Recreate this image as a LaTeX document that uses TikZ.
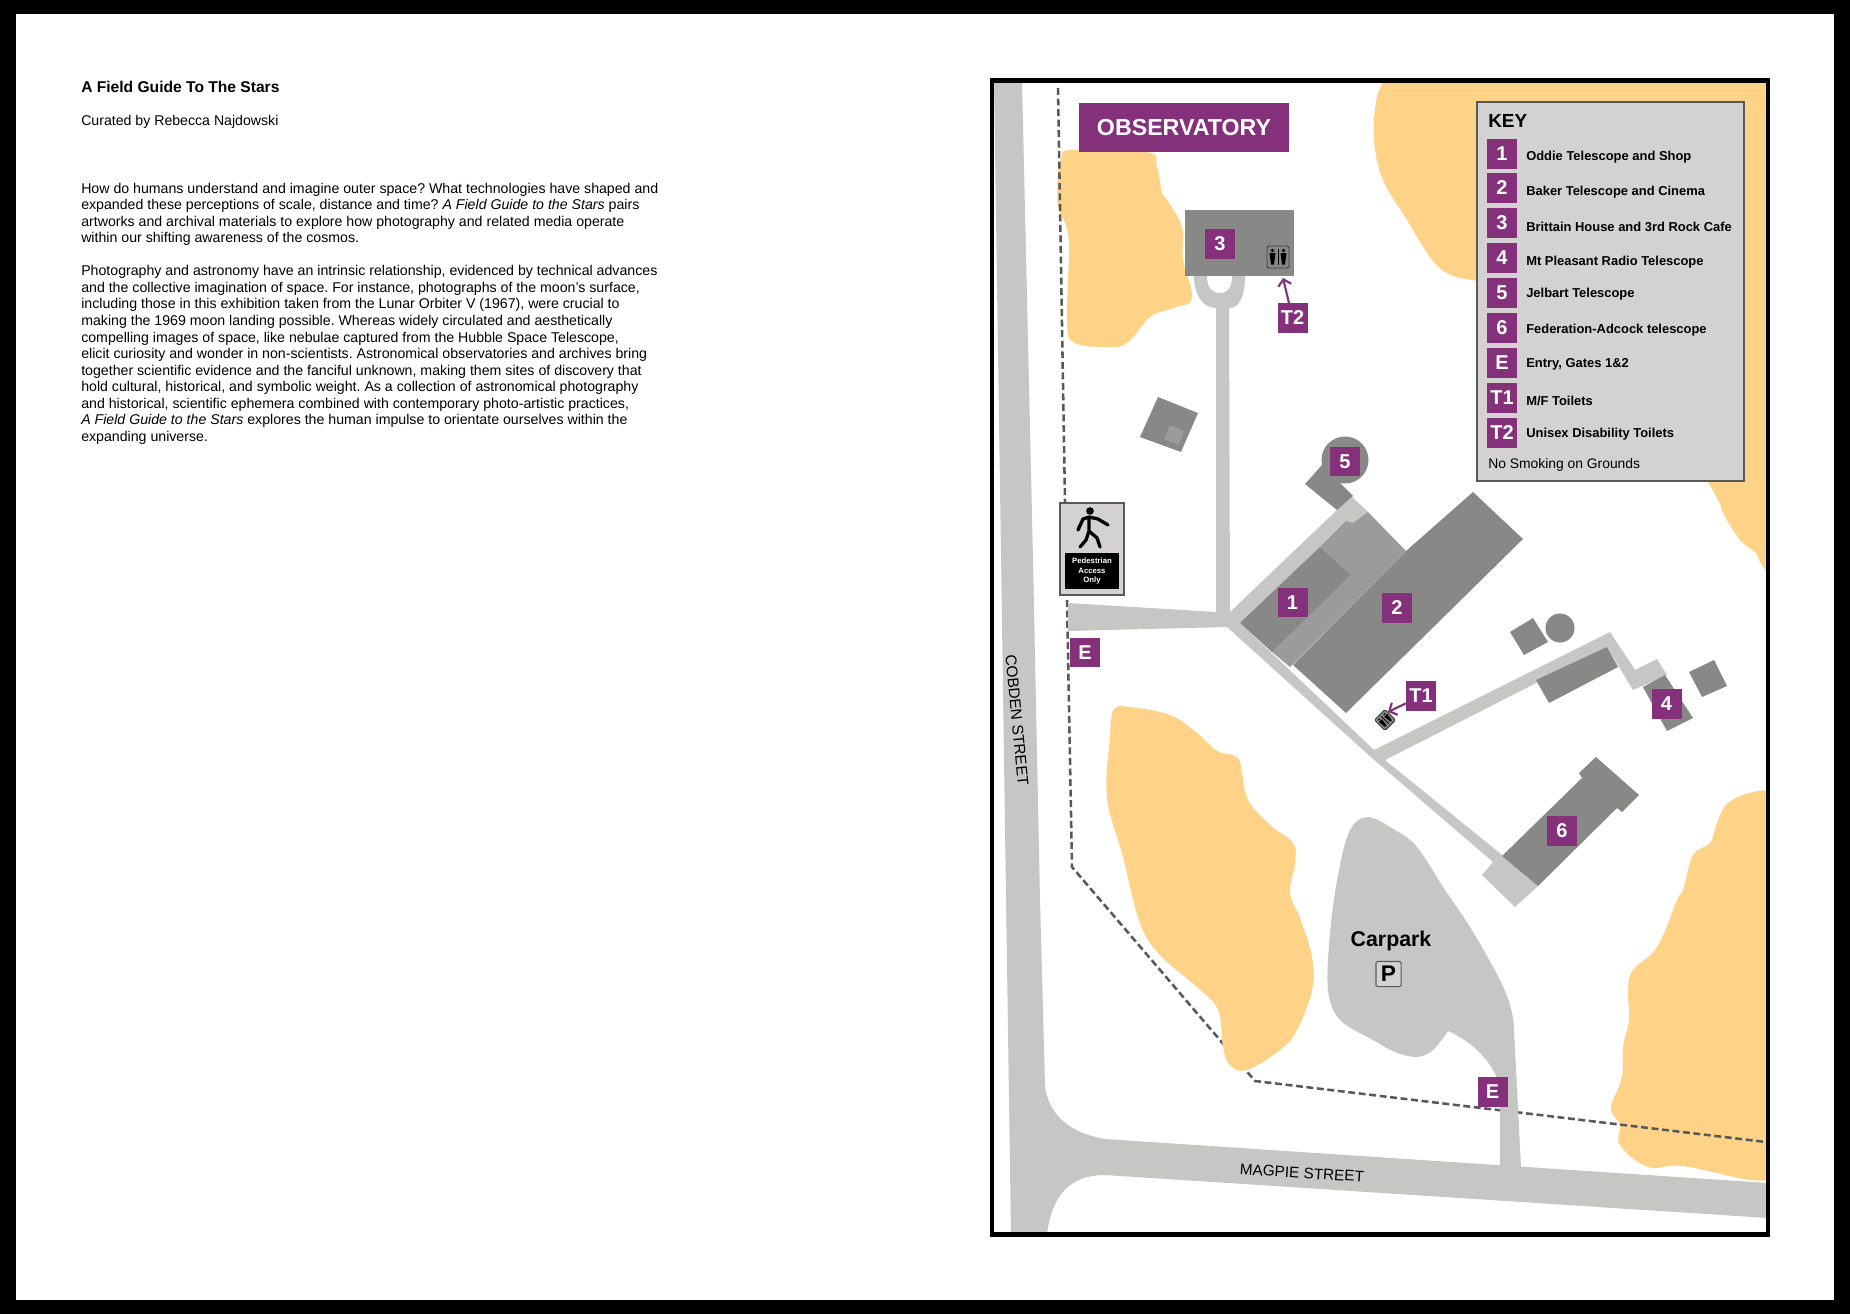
\documentclass[tikz,border=0pt]{standalone}
\usepackage{fontspec}
\setmainfont{Liberation Sans}
\usetikzlibrary{arrows.meta}
\definecolor{labelcol}{HTML}{84307A}
\definecolor{grasscol}{HTML}{FFD387}
\definecolor{roadcol}{HTML}{C6C6C5}
\definecolor{bldgcol}{HTML}{888887}
\definecolor{wingcol}{HTML}{9B9B9B}
\definecolor{panelcol}{HTML}{D3D1D2}
\definecolor{edgecol}{HTML}{58595B}
\tikzset{
  grass/.style={fill=grasscol,draw=none},
  road/.style={fill=roadcol,draw=none},
  bldg/.style={fill=bldgcol,draw=none},
  wing/.style={fill=wingcol,draw=none},
  lab/.style={fill=labelcol,text=white,minimum width=22.5pt,minimum height=22pt,inner sep=0pt,
    font=\fontsize{15}{15}\selectfont\bfseries},
  keytext/.style={anchor=west,inner sep=0pt,font=\fontsize{9.7}{12}\selectfont\bfseries},
  boundary/.style={draw=edgecol,line width=1.9pt,dash pattern=on 5.2pt off 2.7pt},
  pointer/.style={draw=labelcol,line width=1.6pt,-{Straight Barb[length=4.5pt,width=10pt]}},
  pics/toilet/.style={code={
    \fill[fill=#1,draw=black!75,line width=.7pt,rounded corners=1.2pt] (-11,-11) rectangle (11,11);
    \foreach \xx in {-5.5,5.5} {
      \fill[black] (\xx,-6.5) circle (1.8);
      \fill[black] (\xx-3,-4) -- (\xx+3,-4) -- (\xx+2.2,2) -- (\xx+1.5,7.5) -- (\xx-1.5,7.5) -- (\xx-2.2,2) -- cycle;
    }
    \draw[black,line width=.6pt] (0,-8) -- (0,8);
  }},
}
\begin{document}
\begin{tikzpicture}[x=0.75pt,y=-0.75pt]
  \useasboundingbox (0,0) rectangle (1850,1314);
  \fill[black] (0,0) rectangle (1850,1314);
  \fill[white] (16,14) rectangle (1834,1300);

  % text column
  \node (title) [anchor=west,inner sep=0pt,font=\fontsize{11.7}{14}\selectfont\bfseries] at (81,87) {A Field Guide To The Stars};
  \node (curator) [anchor=west,inner sep=0pt,font=\fontsize{10.6}{14}\selectfont] at (81,122) {Curated by Rebecca Najdowski};
  \node (intro) [anchor=north west,inner sep=0pt,align=left,font=\fontsize{10.62}{12.42}\selectfont\frenchspacing] at (81,182.5) {%
    How do humans understand and imagine outer space? What technologies have shaped and\\
    expanded these perceptions of scale, distance and time? \textit{A Field Guide to the Stars} pairs\\
    artworks and archival materials to explore how photography and related media operate\\
    within our shifting awareness of the cosmos.\\[12.42pt]
    Photography and astronomy have an intrinsic relationship, evidenced by technical advances\\
    and the collective imagination of space. For instance, photographs of the moon’s surface,\\
    including those in this exhibition taken from the Lunar Orbiter V (1967), were crucial to\\
    making the 1969 moon landing possible. Whereas widely circulated and aesthetically\\
    compelling images of space, like nebulae captured from the Hubble Space Telescope,\\
    elicit curiosity and wonder in non-scientists. Astronomical observatories and archives bring\\
    together scientific evidence and the fanciful unknown, making them sites of discovery that\\
    hold cultural, historical, and symbolic weight. As a collection of astronomical photography\\
    and historical, scientific ephemera combined with contemporary photo-artistic practices,\\
    \textit{A Field Guide to the Stars} explores the human impulse to orientate ourselves within the\\
    expanding universe.};

  % grass, under the boundary
  \begin{scope}
    \clip (994,83) rectangle (1766,1232);
    \fill[grass] plot[smooth cycle,tension=.65] coordinates {
      (1062,157) (1072,150) (1147,152) (1157,167) (1162,193) (1167,200) (1182,227) (1183,260) (1192,298)
      (1173,308) (1150,317) (1127,343) (1103,347) (1073,342) (1067,320) (1069,247) (1065,223)
      (1058,207) (1058,173)};
    \fill[grass] plot[smooth,tension=.6] coordinates {
      (1390,70) (1377,97) (1374,140) (1383,180) (1407,220) (1430,257) (1447,273) (1477,281)
      (1600,300) (1708,482) (1723,513) (1740,540) (1756,553) (1760,562) (1770,576)}
      -- (1780,70) -- cycle;
    \fill[grass] plot[smooth,tension=.65] coordinates {
      (1780,790) (1753,792) (1728,803) (1717,823) (1710,843) (1693,855) (1683,890) (1677,900)
      (1657,947) (1633,970) (1628,990) (1629,1020) (1623,1047) (1622,1077) (1611,1108)
      (1620,1125) (1620,1145) (1648,1167) (1683,1166) (1750,1180) (1780,1178)} -- cycle;
  \end{scope}

  % site boundary
  \draw[boundary] (1058,88) -- (1065,502);
  \draw[boundary] (1067,600) -- (1072,867) -- (1255,1081) -- (1766,1142);

  \fill[grass] plot[smooth cycle,tension=.65] coordinates {
    (1111,720) (1115,708) (1130,707) (1170,715) (1197,733) (1217,751) (1237,757) (1242,773)
    (1248,800) (1270,825) (1293,843) (1295,863) (1290,893) (1300,918) (1312,957) (1312,990)
    (1297,1030) (1280,1050) (1247,1070) (1230,1065) (1223,1047) (1218,1010) (1197,987)
    (1160,955) (1140,923) (1123,857) (1107,797) (1110,737)};

  % streets
  \fill[road] (994,80) -- (1022,80) -- (1033,560) -- (1040,900) -- (1045,1085)
    .. controls (1048,1115) and (1070,1133) .. (1105,1139) -- (1768,1183) -- (1768,1218)
    -- (1105,1175) .. controls (1070,1175) and (1052,1195) .. (1047,1234) -- (1011,1234) -- cycle;

  % carpark and drive
  \fill[road] plot[smooth,tension=.55] coordinates {
    (1448,1031) (1433,1050) (1417,1057) (1395,1052) (1373,1040) (1340,1020) (1328,990) (1330,933)
    (1338,875) (1350,830) (1368,817) (1395,830) (1417,847) (1445,890) (1470,927) (1500,980)
    (1512,1013) (1515,1050) (1521,1167)} -- (1500,1167)
    -- (1500,1087) .. controls (1496,1070) and (1480,1045) .. (1448,1031) -- cycle;

  % paths
  \fill[road,even odd rule] (1216,612) -- (1216,308) .. controls (1203,308) and (1194,295) .. (1194,276)
    -- (1245,276) .. controls (1245,295) and (1240,308) .. (1229,308) -- (1230,612) -- cycle
    (1207,276) .. controls (1207,288) and (1212,293) .. (1220,293) .. controls (1228,293) and (1232,288) .. (1232,276) -- cycle;
  \fill[road] (1068,603) -- (1216,612) -- (1230,612) -- (1337,510) -- (1352,497) -- (1368,512)
    -- (1353,523) -- (1240,623) -- (1374,750) -- (1610,632) -- (1635,670) -- (1657,659) -- (1667,675)
    -- (1633,690) -- (1607,647) -- (1385,760) -- (1502,855) -- (1538,886) -- (1515,907) -- (1482,875)
    -- (1493,862) -- (1372,758) -- (1227,627) -- (1068,631) -- cycle;

  % buildings
  \fill[bldg] (1473,492) -- (1523,539) -- (1346,713) -- (1293,665) -- (1406,551) -- cycle;
  \fill[wing] (1368,512) -- (1406,551) -- (1290,667) -- (1272,652) -- (1351,575) -- (1320,547) -- (1346,521) -- (1353,523) -- cycle;
  \fill[bldg] (1320,547) -- (1351,575) -- (1272,652) -- (1240,623) -- cycle;
  \fill[bldg] (1305,484) -- (1322,465) -- (1353,496) -- (1337,510) -- cycle;
  \fill[bldg] (1345,460) circle (23.5);
  \fill[bldg] (1158,397) -- (1198,413) -- (1181,452) -- (1140,437) -- cycle;
  \fill[wing] (1170,425) -- (1184,431) -- (1179,445) -- (1164,439) -- cycle;
  \fill[bldg] (1185,210) rectangle (1294,276);
  \fill[bldg] (1533,618) -- (1548,642) -- (1524,655) -- (1510,632) -- cycle;
  \fill[bldg] (1560,628) circle (14.5);
  \fill[bldg] (1607,647) -- (1618,667) -- (1549,703) -- (1536,680) -- cycle;
  \fill[bldg] (1665,675) -- (1693,718) -- (1667,731) -- (1643,687) -- cycle;
  \fill[bldg] (1714,660) -- (1727,686) -- (1702,697) -- (1689,672) -- cycle;
  \fill[bldg] (1596,757) -- (1639,795) -- (1622,812) -- (1617,808) -- (1538,886) -- (1502,856)
    -- (1582,778) -- (1579,773) -- cycle;

  % toilets
  \pic at (1278,257) {toilet=bldgcol};
  \pic [scale=.68,rotate=45] at (1385,720) {toilet=bldgcol};

  % frame
  \draw[line width=3.6pt] (992,80.5) rectangle (1768,1234.5);

  % map labels
  \node (obs) [fill=labelcol,text=white,minimum width=157.5pt,minimum height=36.8pt,inner sep=0pt,
    font=\fontsize{17.4}{18}\selectfont\bfseries] at (1184,127.5) {OBSERVATORY};
  \node (n3) [lab] at (1220,244) {3};
  \node (t2) [lab] at (1292.5,318) {T2};
  \node (n5) [lab] at (1345,461.5) {5};
  \node (n1) [lab] at (1292.5,602.5) {1};
  \node (n2) [lab] at (1397,608) {2};
  \node (e1) [lab] at (1085,652.5) {E};
  \node (t1) [lab] at (1421,696) {T1};
  \node (n4) [lab] at (1666.5,704) {4};
  \node (n6) [lab] at (1562,831) {6};
  \node (e2) [lab] at (1492.5,1092) {E};
  \coordinate (t2end) at (1283,278);
  \coordinate (t1end) at (1388,712);
  \draw[pointer] (t2) -- (t2end);
  \draw[pointer] (t1) -- (t1end);

  \node (cobden) [rotate=-84.5,inner sep=0pt,font=\fontsize{11.6}{12}\selectfont] at (1017,720) {COBDEN STREET};
  \node (magpie) [rotate=-3.5,inner sep=0pt,font=\fontsize{11.5}{12}\selectfont] at (1302,1173) {MAGPIE STREET};
  \node (carpark) [inner sep=0pt,font=\fontsize{16}{18}\selectfont\bfseries] at (1391,941) {Carpark};
  \node (pbox) [draw=edgecol,fill=panelcol,line width=.8pt,rounded corners=1pt,minimum size=18.8pt,inner sep=0pt,
    font=\fontsize{17}{17}\selectfont\bfseries] at (1388.5,974) {P};

  % pedestrian sign
  \node (sign) [draw=edgecol,fill=panelcol,line width=1.6pt,minimum width=48pt,minimum height=69pt,inner sep=0pt] at (1092,549) {};
  \node (signtext) [fill=black,text=white,minimum width=40.5pt,minimum height=27pt,inner sep=0pt,align=center,
    font=\fontsize{5.8}{7}\selectfont\bfseries] at (1092,571) {Pedestrian\\Access\\Only};
  \fill (1090,511) circle (3.8);
  \draw[line width=2.5pt,line cap=round,line join=round]
    (1078,530) -- (1083,519) -- (1089,517) -- (1098,519) -- (1108,525)
    (1089,517) -- (1089,531) -- (1086,540) -- (1080,547)
    (1089,531) -- (1097,538) -- (1100,547);

  % key
  \node (keybox) [draw=edgecol,fill=panelcol,line width=1.6pt,minimum width=200pt,minimum height=284.5pt,inner sep=0pt] at (1610.5,291.7) {};
  \node (keyhead) [anchor=west,inner sep=0pt,font=\fontsize{14.2}{14}\selectfont\bfseries] at (1488,121) {KEY};
  \foreach \nm/\lb/\ty/\tx/\txt in {
      k1/1/154/157/Oddie Telescope and Shop,
      k2/2/188/192/Baker Telescope and Cinema,
      k3/3/223/227/Brittain House and 3rd Rock Cafe,
      k4/4/258/262/Mt Pleasant Radio Telescope,
      k5/5/293/294.5/Jelbart Telescope,
      k6/6/328/330.5/Federation-Adcock telescope,
      k7/E/363/364.5/{Entry, Gates 1\&2},
      k8/T1/398/400.5/{M/F Toilets},
      k9/T2/433/434.5/Unisex Disability Toilets} {
    \node (\nm) [lab] at (1502,\ty) {\lb};
    \node (\nm txt) [keytext] at (1526,\tx) {\txt};
  }
  \node (nosmoke) [anchor=west,inner sep=0pt,font=\fontsize{10.4}{12}\selectfont] at (1488,465) {No Smoking on Grounds};
\end{tikzpicture}
\end{document}
